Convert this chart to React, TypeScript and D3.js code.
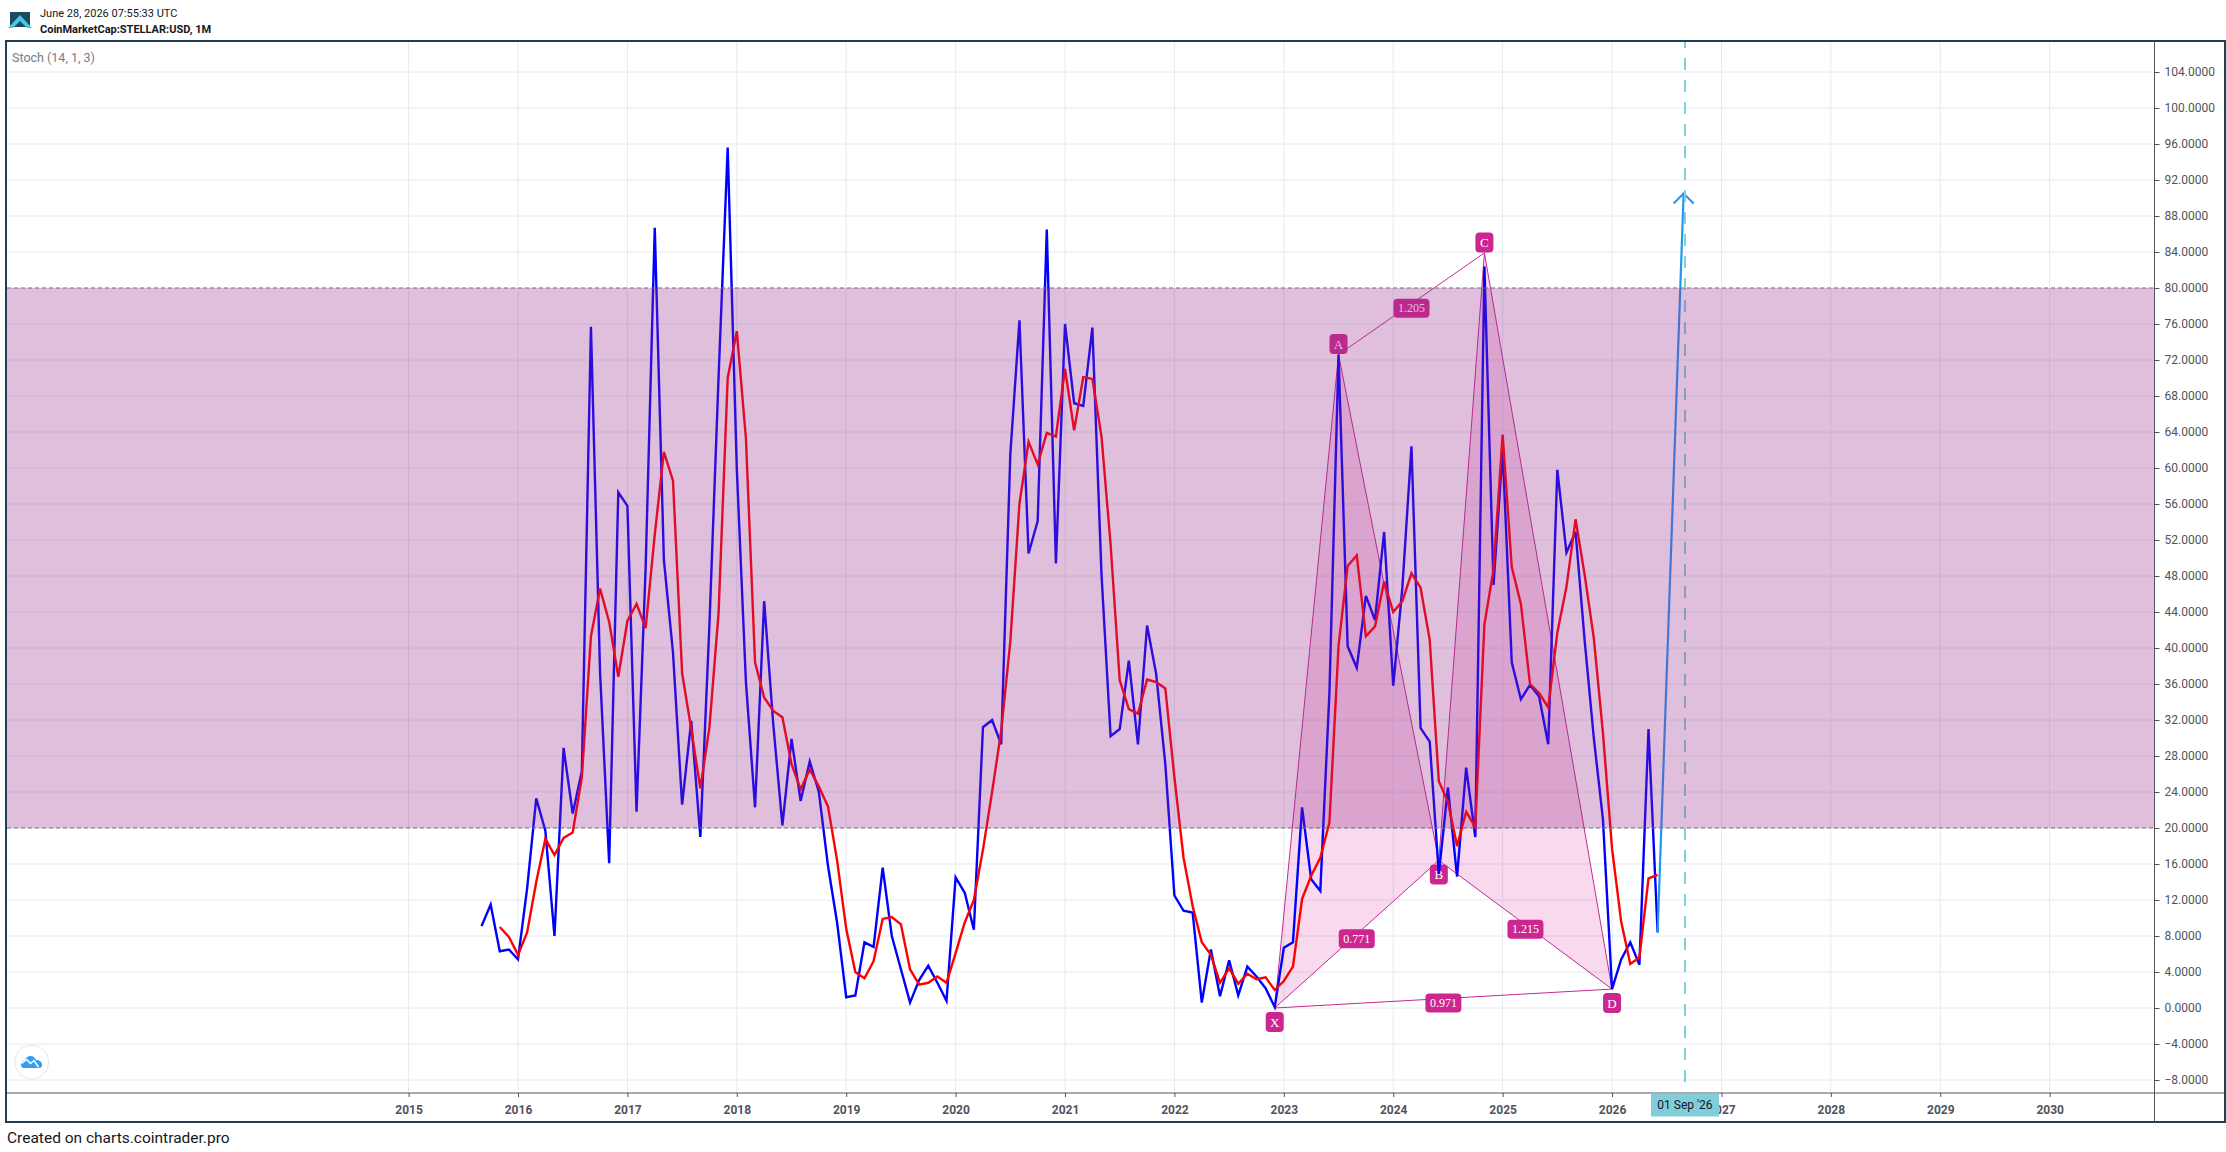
import React, { useEffect, useRef } from "react";
import * as d3 from "d3";

const width = 2226;
const height = 1152;

// bars are months counted from Jan 2015
const yearLabels = [2015, 2016, 2017, 2018, 2019, 2020, 2021, 2022, 2023, 2024, 2025, 2026, 2027, 2028, 2029, 2030];
const priceTicks = [-8, -4, 0, 4, 8, 12, 16, 20, 24, 28, 32, 36, 40, 44, 48, 52, 56, 60, 64, 68, 72, 76, 80, 84, 88, 92, 96, 100, 104];

const kStartBar = 8;
const kValues = [
  9.1, 11.5, 6.3, 6.5, 5.4, 13.3, 23.3, 19.7, 8, 28.9, 21.6, 26.3, 75.7, 37.3, 16.1, 57.3,
  55.8, 21.8, 48.9, 86.7, 49.8, 39.5, 22.6, 31.9, 19, 42.7, 70.1, 95.6, 59.9, 36.2, 22.3, 45.2,
  31.5, 20.3, 29.9, 23, 27.4, 24, 15.8, 9.5, 1.2, 1.4, 7.3, 6.8, 15.6, 8, 4.3, 0.6,
  3.1, 4.7, 2.8, 0.8, 14.5, 12.8, 8.7, 31.2, 32, 29.3, 61.5, 76.4, 50.5, 54.1, 86.5, 49.4,
  76, 67.2, 66.9, 75.6, 48.2, 30.2, 31, 38.6, 29.3, 42.5, 37.1, 27.1, 12.5, 10.8, 10.6, 0.6,
  6.5, 1.3, 5.3, 1.4, 4.6, 3.5, 2.2, 0.1, 6.7, 7.3, 22.3, 14.3, 13, 35, 72.6, 40.2,
  37.8, 45.8, 43.1, 52.9, 35.8, 46.7, 62.4, 31.1, 29.6, 14.9, 24.5, 14.6, 26.7, 19, 82.4, 47,
  62, 38.4, 34.3, 35.9, 34.6, 29.3, 59.8, 50.6, 52.9, 40.8, 30, 21, 2.1, 5.4, 7.3, 4.8,
  31, 8.4,
];

const dStartBar = 10;
const dValues = [
  9, 7.9, 5.9, 8.4, 14, 18.8, 17, 18.9, 19.5, 25.6, 41.3, 46.6, 42.9, 36.8,
  43, 44.9, 42.2, 52.6, 61.8, 58.6, 37.2, 31, 24.4, 31.2, 43.9, 70, 75.2, 63.3, 38.4, 34.5,
  33, 32.3, 27.1, 24.3, 26.5, 24.6, 22.4, 16.4, 8.8, 4, 3.3, 5.2, 9.9, 10.1, 9.3, 4.3,
  2.6, 2.8, 3.5, 2.8, 6.1, 9.5, 12, 17.6, 24, 30.8, 40.7, 56, 62.9, 60.4, 63.9, 63.5,
  71, 64.2, 70.1, 69.9, 63.5, 51.5, 36.4, 33.2, 32.7, 36.5, 36.2, 35.5, 25.6, 16.7, 11.3, 7.3,
  5.9, 2.8, 4.4, 2.7, 3.8, 3.2, 3.4, 2, 3, 4.6, 12.1, 14.7, 16.7, 20.6, 40.2, 49.1,
  50.3, 41.3, 42.4, 47.4, 44, 45.2, 48.3, 46.7, 40.9, 25.2, 22.9, 18, 21.8, 20.1, 42.6, 48.7,
  63.7, 49, 44.9, 36, 35, 33.4, 41.7, 46.8, 54.3, 48.1, 41.1, 30.6, 17.7, 9.6, 4.9, 5.6,
  14.4, 14.8,
];

const bandLevels = [20, 80];

// harmonic pattern pivots
const pivotNames = ["X", "A", "B", "C", "D"];
const pivotBars = [95, 102, 113, 118, 132];
const pivotValues = [0, 72.6, 16.4, 83.9, 2.1];
const ratioLabels = ["0.771", "1.205", "1.215", "0.971"];
const ratioPairs = [[0, 2], [1, 3], [2, 4], [0, 4]];

const arrowBars = [137, 139.85];
const arrowValues = [8.4, 90.5];
const cursorBar = 140;
const cursorLabel = "01 Sep '26";

const plotLeft = 7;
const plotTop = 41;
const plotRight = 2154.5;
const plotBottom = 1093;
const frameRight = 2225;
const frameBottom = 1122;

const x = d3.scaleLinear().domain([0, 180]).range([408.6, 408.6 + 180 * 9.117]);
const y = d3.scaleLinear().domain([-8, 104]).range([1080, 72]);

const gridColor = "#e1ecf2";
const axisColor = "#50535e";
const pink = "#cc2790";
const edgePink = "#c32b92";
const uiFont = "Roboto, sans-serif";

const kPoints = kValues.map((v, i) => [kStartBar + i, v] as [number, number]);
const dPoints = dValues.map((v, i) => [dStartBar + i, v] as [number, number]);

const seriesLine = d3
  .line<[number, number]>()
  .x((d) => x(d[0]))
  .y((d) => y(d[1]));

const pivot = (i: number) => [x(pivotBars[i]), y(pivotValues[i])];

const triangle = (ids: number[]) => {
  const path = d3.path();
  ids.forEach((id, n) => {
    const [px, py] = pivot(id);
    if (n === 0) path.moveTo(px, py);
    else path.lineTo(px, py);
  });
  path.closePath();
  return path.toString();
};

const App = () => {
  const axisRightEl = useRef<SVGGElement>(null);
  const axisBottomEl = useRef<SVGGElement>(null);

  useEffect(() => {
    const right = d3
      .axisRight(y)
      .tickValues(priceTicks)
      .tickFormat((d) => d3.format(".4f")(d as number))
      .tickSize(5)
      .tickPadding(5);
    const rightG = d3.select(axisRightEl.current).call(right as any);
    rightG.select(".domain").remove();
    rightG.selectAll("line").attr("stroke", axisColor);
    rightG.selectAll("text").attr("fill", axisColor).attr("font-size", 12).attr("font-family", uiFont);

    const bottom = d3
      .axisBottom(x)
      .tickValues(yearLabels.map((yr) => (yr - 2015) * 12))
      .tickFormat((_, i) => String(yearLabels[i]))
      .tickSize(4)
      .tickPadding(8);
    const bottomG = d3.select(axisBottomEl.current).call(bottom as any);
    bottomG.select(".domain").remove();
    bottomG.selectAll("line").attr("stroke", axisColor);
    bottomG
      .selectAll("text")
      .attr("fill", axisColor)
      .attr("font-size", 12)
      .attr("font-weight", 700)
      .attr("font-family", uiFont);
  }, []);

  const [ax0, ax1] = arrowBars.map((b) => x(b));
  const [ay0, ay1] = arrowValues.map((v) => y(v));

  return (
    <svg
      width={width}
      height={height}
      style={{ position: "absolute", left: 0, top: 0, display: "block", background: "#fff" }}
    >
      {/* grid */}
      <g stroke={gridColor} strokeWidth="1">
        {priceTicks.map((t) => (
          <line key={t} x1={plotLeft} x2={plotRight} y1={y(t)} y2={y(t)} />
        ))}
        {yearLabels.map((yr) => (
          <line key={yr} x1={x((yr - 2015) * 12)} x2={x((yr - 2015) * 12)} y1={plotTop} y2={plotBottom} />
        ))}
      </g>

      {/* pattern */}
      <g>
        <path d={triangle([0, 1, 2])} fill="rgba(214,32,150,0.17)" stroke={edgePink} strokeWidth="1" />
        <path d={triangle([2, 3, 4])} fill="rgba(214,32,150,0.17)" stroke={edgePink} strokeWidth="1" />
        <line x1={pivot(1)[0]} y1={pivot(1)[1]} x2={pivot(3)[0]} y2={pivot(3)[1]} stroke={edgePink} />
        <line x1={pivot(0)[0]} y1={pivot(0)[1]} x2={pivot(4)[0]} y2={pivot(4)[1]} stroke={edgePink} />
        {ratioLabels.map((label, i) => {
          const [a, b] = ratioPairs[i];
          const cx = (pivot(a)[0] + pivot(b)[0]) / 2;
          const cy = (pivot(a)[1] + pivot(b)[1]) / 2 + 4.5;
          return (
            <g key={label}>
              <rect x={cx - 18} y={cy - 9.5} width={36} height={19} rx={4} fill={pink} />
              <text
                x={cx}
                y={cy + 4}
                textAnchor="middle"
                fill="#fff"
                fontSize="12"
                fontFamily="'Liberation Serif', serif"
              >
                {label}
              </text>
            </g>
          );
        })}
        {pivotNames.map((name, i) => {
          const [px, py] = pivot(i);
          const cy = name === "A" || name === "C" ? py - 10.5 : py + 14;
          return (
            <g key={name}>
              <rect x={px - 9} y={cy - 10} width={18} height={20} rx={4} fill={pink} />
              <text
                x={px}
                y={cy + 4.5}
                textAnchor="middle"
                fill="#fff"
                fontSize="13"
                fontFamily="'Liberation Serif', serif"
              >
                {name}
              </text>
            </g>
          );
        })}
      </g>

      {/* stochastic */}
      <path d={seriesLine(kPoints) as string} fill="none" stroke="#0000ff" strokeWidth="2.4" strokeLinejoin="miter" />
      <path d={seriesLine(dPoints) as string} fill="none" stroke="#ff0000" strokeWidth="2.4" strokeLinejoin="miter" />

      {/* projection arrow and time cursor */}
      <path d={`M${ax0},${ay0}L${ax1},${ay1}`} fill="none" stroke="#2196f3" strokeWidth="2.2" />
      <path
        d={`M${ax1 - 10},${ay1 + 10}L${ax1},${ay1}L${ax1 + 10},${ay1 + 10}`}
        fill="none"
        stroke="#2196f3"
        strokeWidth="2"
      />
      <line
        x1={x(cursorBar)}
        x2={x(cursorBar)}
        y1={plotTop}
        y2={plotBottom - 6}
        stroke="#80d0de"
        strokeWidth="2"
        strokeDasharray="12 10"
        strokeDashoffset="5"
      />

      {/* 20-80 band goes over the lines */}
      <rect
        x={plotLeft}
        width={plotRight - plotLeft}
        y={y(bandLevels[1])}
        height={y(bandLevels[0]) - y(bandLevels[1])}
        fill="rgba(148,42,139,0.3)"
      />
      {bandLevels.map((lvl) => (
        <line
          key={lvl}
          x1={plotLeft}
          x2={plotRight}
          y1={y(lvl)}
          y2={y(lvl)}
          stroke="#7e6a80"
          strokeWidth="1"
          strokeDasharray="4 3"
        />
      ))}

      {/* watermark */}
      <circle cx="31.7" cy="1062" r="16.8" fill="#fff" stroke="#e6e6e6" />
      <path
        d="M21,1065 Q21,1061 24.5,1060.5 Q26,1056.5 30,1056 Q34,1055.5 36,1060 Q41,1060 42,1064 Q42.5,1068 39,1068 L24,1068 Q21,1068 21,1065 Z"
        fill="#2f9ff0"
      />
      <path d="M21.5,1063.5 L26.7,1059.5 L30.5,1063.5 L34,1060.5 L38.5,1067" fill="none" stroke="#fff" strokeWidth="1.5" />

      {/* frame and axes */}
      <rect
        x={6}
        y={41}
        width={frameRight - 6}
        height={frameBottom - 41}
        fill="none"
        stroke="#1f3f54"
        strokeWidth="2"
      />
      <line x1={plotLeft} x2={frameRight} y1={plotBottom} y2={plotBottom} stroke={axisColor} />
      <line x1={plotRight} x2={plotRight} y1={plotTop} y2={frameBottom} stroke={axisColor} />
      <g ref={axisRightEl} transform={`translate(${plotRight},0)`} />
      <g ref={axisBottomEl} transform={`translate(0,${plotBottom})`} />

      {/* cursor tag */}
      <rect x={x(cursorBar) - 34} y={plotBottom + 0.5} width={68} height={23} fill="#81cdda" />
      <text
        x={x(cursorBar)}
        y={plotBottom + 16}
        textAnchor="middle"
        fontSize="12"
        fill="#131722"
        fontFamily={uiFont}
      >
        {cursorLabel}
      </text>

      {/* header */}
      <rect x="10" y="12" width="20" height="15" fill="#1b4a63" />
      <polygon points="8,28 20,15 32,28 27,28 20,21 13,28" fill="#4fc3e8" />
      <text x="40" y="17" fontSize="11" fill="#131722" fontFamily={uiFont}>
        June 28, 2026 07:55:33 UTC
      </text>
      <text x="40" y="33" fontSize="11" fontWeight="700" fill="#131722" fontFamily={uiFont}>
        CoinMarketCap:STELLAR:USD, 1M
      </text>
      <text x="12" y="62" fontSize="12.5" fill="#787b86" fontFamily={uiFont}>
        Stoch (14, 1, 3)
      </text>
      <text x="7" y="1143" fontSize="15.5" fill="#131722" fontFamily={uiFont}>
        Created on charts.cointrader.pro
      </text>
    </svg>
  );
};

export default App;
